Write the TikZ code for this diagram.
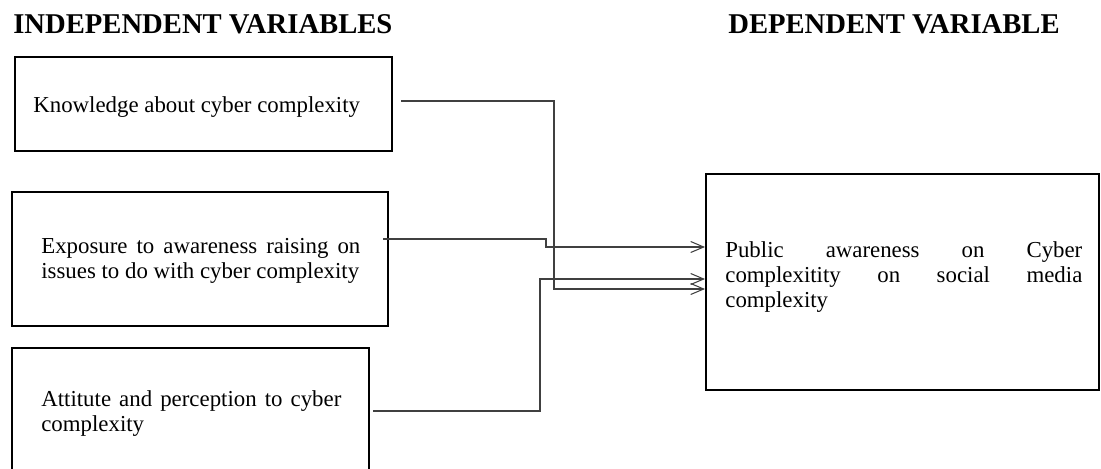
\documentclass[tikz,border=0pt]{standalone}
\usepackage{fontspec}
\setmainfont{Liberation Serif}
\usetikzlibrary{arrows.meta}
\hyphenpenalty=10000

\begin{document}
\begin{tikzpicture}[
    varbox/.style={draw, line width=1.1pt, inner sep=0pt},
    vartext/.style={inner sep=0pt, anchor=base west, align=justify,
        font=\fontsize{13}{14.5}\selectfont},
    heading/.style={inner sep=0pt, font=\fontsize{16.3}{18}\selectfont\bfseries},
    link/.style={draw=black!75, line width=0.6pt, -{Straight Barb[length=2.6mm,width=2.2mm]}}
]
\useasboundingbox (0,0) rectangle (22.02,-9.38);

% Headings
\node (indep) [heading,
    anchor=base west
] at (0.26,-0.66) {INDEPENDENT VARIABLES};
\node (dep) [heading,
    anchor=base east
] at (21.2,-0.66) {DEPENDENT VARIABLE};

% Independent variables
\node (know) [varbox,
    minimum width=7.54cm,
    minimum height=1.88cm
] at (4.07,-2.08) {};
\node (knowtext) [vartext] at (0.66,-2.24) {Knowledge about cyber complexity};

\node (expo) [varbox,
    minimum width=7.52cm,
    minimum height=2.68cm
] at (4.00,-5.18) {};
\node (expotext) [vartext,
    text width=6.38cm
] at (0.82,-5.06) {Exposure to awareness raising on issues to do with cyber complexity};

\node (atti) [varbox,
    minimum width=7.14cm,
    minimum height=2.64cm
] at (3.81,-8.28) {};
\node (attitext) [vartext,
    text width=6.0cm
] at (0.82,-8.12) {Attitute and perception to cyber complexity};

% Dependent variable
\node (pub) [varbox,
    minimum width=7.86cm,
    minimum height=4.32cm
] at (18.05,-5.64) {};
\node (pubtext) [vartext,
    text width=7.14cm
] at (14.50,-5.14) {Public awareness on Cyber\linebreak complexitity on social media\linebreak complexity};

% Connectors
\coordinate (knowout) at (8.02,-2.02);
\coordinate (expoout) at (7.66,-4.78);
\coordinate (attiout) at (7.46,-8.22);

\draw [link] (knowout) -- (11.08,-2.02) |- ([yshift=-0.14cm]pub.west);
\draw [link] (expoout) -- (10.92,-4.78) |- ([yshift=0.70cm]pub.west);
\draw [link] (attiout) -- (10.80,-8.22) |- ([yshift=0.06cm]pub.west);

\end{tikzpicture}
\end{document}
